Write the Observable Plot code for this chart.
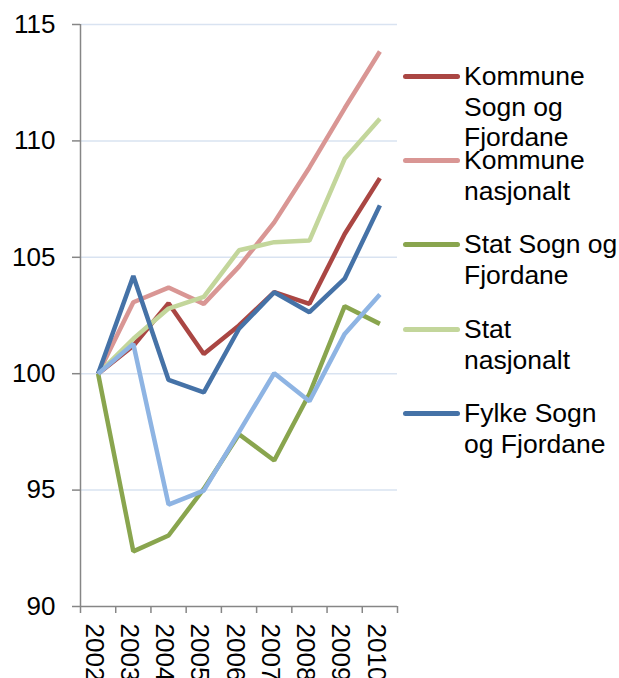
<!DOCTYPE html>
<html>
<head>
<meta charset="utf-8">
<script src="https://cdn.jsdelivr.net/npm/d3@7"></script>
<script src="https://cdn.jsdelivr.net/npm/@observablehq/plot@0.6"></script>
<style>
  html, body { margin: 0; padding: 0; background: #fff; }
  #wrap { position: relative; width: 619px; height: 678px; overflow: hidden; font-family: "Liberation Sans", Arial, sans-serif; }
  #legend { position: absolute; left: 0; top: 0; }
  .item { position: absolute; left: 403px; font-size: 26.5px; line-height: 30.5px; color: #000; white-space: nowrap; }
  .sw { position: absolute; left: 0; top: 12.5px; width: 57px; height: 5px; border-radius: 3px; }
  .lbl { position: absolute; left: 61px; top: 0; }
</style>
</head>
<body>
<div id="wrap"><div id="chart"></div><div id="legend"></div></div>
<script>
const years = [2002, 2003, 2004, 2005, 2006, 2007, 2008, 2009, 2010];
const kommuneSF    = [100, 101.2, 103.03, 100.85, 102.07, 103.5, 103.0, 106.0, 108.4];
const kommuneNasj  = [100, 103.07, 103.7, 103.0, 104.6, 106.5, 108.86, 111.4, 113.84];
const statSF       = [100, 92.37, 93.05, 95.05, 97.4, 96.27, 99.14, 102.9, 102.14];
const statNasj     = [100, 101.5, 102.8, 103.3, 105.3, 105.65, 105.72, 109.23, 110.95];
const fylkeSF      = [100, 104.2, 99.73, 99.2, 101.93, 103.5, 102.64, 104.08, 107.23];
const fylkeNasj    = [100, 101.28, 94.38, 94.98, 97.49, 100.02, 98.82, 101.71, 103.4];
const seriesNames  = ["Kommune Sogn og Fjordane", "Kommune nasjonalt", "Stat Sogn og Fjordane", "Stat nasjonalt", "Fylke Sogn og Fjordane", "Fylke nasjonalt"];
const legendLabels = ["Kommune<br>Sogn og<br>Fjordane", "Kommune<br>nasjonalt", "Stat Sogn og<br>Fjordane", "Stat<br>nasjonalt", "Fylke Sogn<br>og Fjordane", null];
const seriesColors = ["#AA4643", "#D99694", "#89A54E", "#C3D69B", "#4572A7", "#8EB4E3"];
const yTicks = [90, 95, 100, 105, 110, 115];

const allValues = [kommuneSF, kommuneNasj, statSF, statNasj, fylkeSF, fylkeNasj];
const data = [];
allValues.forEach((vals, i) => vals.forEach((v, j) => data.push({series: seriesNames[i], year: years[j], value: v})));

const bounds = years.map(y => y - 0.5).concat([years[years.length - 1] + 0.5]);
const axisColor = "#868686";

const chart = Plot.plot({
  width: 619,
  height: 678,
  marginLeft: 80,
  marginRight: 222,
  marginTop: 24,
  marginBottom: 72,
  style: {fontFamily: "Liberation Sans, Arial, sans-serif", background: "#fff", overflow: "hidden"},
  x: {type: "linear", domain: [bounds[0], bounds[bounds.length - 1]]},
  y: {domain: [90, 115]},
  color: {domain: seriesNames, range: seriesColors},
  marks: [
    Plot.ruleY(yTicks.filter(t => t > 90), {y: d => d, stroke: "#D9E3F1", strokeWidth: 1.5}),
    Plot.axisY({ticks: yTicks, tickSize: 8, tickPadding: 17, fontSize: 26, stroke: axisColor, strokeWidth: 1.5, color: "#000", label: null, tickFormat: d => String(d)}),
    Plot.axisX({ticks: bounds, tickSize: 7, tickFormat: () => "", stroke: axisColor, strokeWidth: 1.5, label: null}),
    Plot.axisX({ticks: years, tickSize: 0, tickPadding: 17, tickRotate: 90, fontSize: 26, dx: -4, color: "#000", tickFormat: d => String(d), label: null}),
    Plot.ruleX([bounds[0]], {stroke: axisColor, strokeWidth: 1.5}),
    Plot.ruleY([90], {x1: bounds[0], x2: bounds[bounds.length - 1], stroke: axisColor, strokeWidth: 1.5}),
    Plot.line(data, {x: "year", y: "value", z: "series", stroke: "series", strokeWidth: 4.5, strokeLinejoin: "miter", strokeLinecap: "butt"})
  ]
});
document.getElementById("chart").appendChild(chart);

const swatchY = [76, 160, 244, 329, 413];
const legend = document.getElementById("legend");
legendLabels.forEach((lab, i) => {
  if (!lab) return;
  const item = document.createElement("div");
  item.className = "item";
  item.style.top = (swatchY[i] - 15) + "px";
  item.innerHTML = `<div class="sw" style="background:${seriesColors[i]}"></div><div class="lbl">${lab}</div>`;
  legend.appendChild(item);
});
</script>
</body>
</html>
